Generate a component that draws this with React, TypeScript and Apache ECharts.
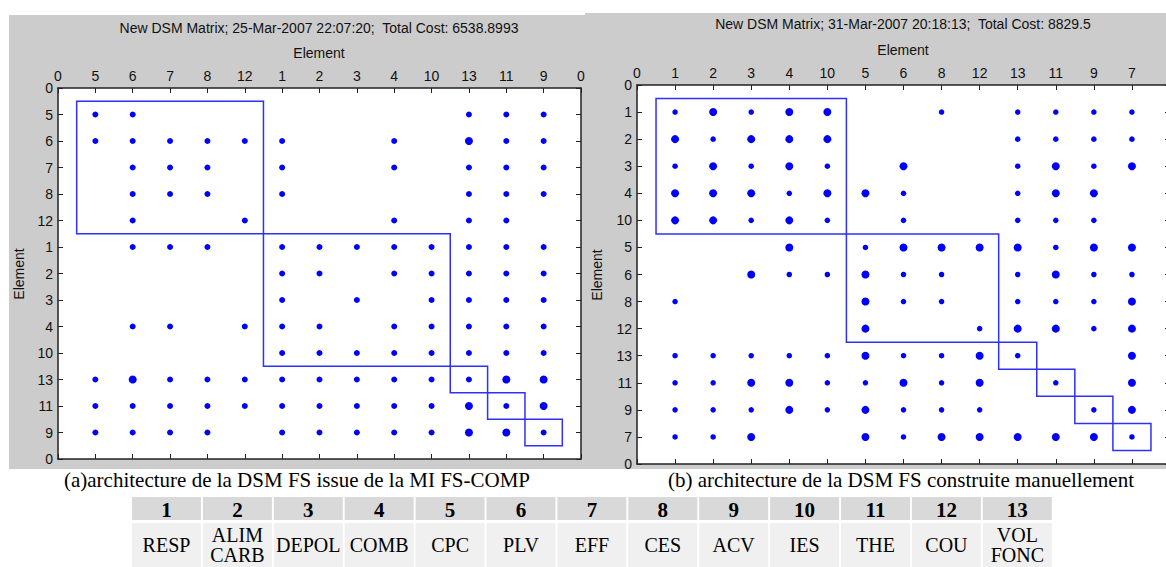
import React, { useEffect, useRef } from "react";
import * as echarts from "echarts";

// ---------- data ----------
const leftOrder = [5, 6, 7, 8, 12, 1, 2, 3, 4, 10, 13, 11, 9];
const rightOrder = [1, 2, 3, 4, 10, 5, 6, 8, 12, 13, 11, 9, 7];

// [row element, columns with a dot, columns with a big dot]
const leftRows: [number, number[], number[]][] = [
  [5, [5, 6, 13, 11, 9], []],
  [6, [5, 6, 7, 8, 12, 1, 4, 13, 11, 9], [13]],
  [7, [6, 7, 8, 1, 4, 13, 11, 9], []],
  [8, [6, 7, 8, 1, 13, 11, 9], []],
  [12, [6, 12, 4, 13, 11], []],
  [1, [6, 7, 8, 1, 2, 3, 4, 10, 13, 11, 9], []],
  [2, [1, 2, 4, 10, 13, 11, 9], []],
  [3, [1, 3, 10, 13, 11, 9], []],
  [4, [6, 7, 12, 1, 2, 4, 10, 13, 11, 9], []],
  [10, [1, 2, 3, 4, 10, 13, 11, 9], []],
  [13, [5, 6, 7, 8, 12, 1, 2, 3, 4, 10, 13, 11, 9], [6, 11, 9]],
  [11, [5, 6, 7, 8, 12, 1, 2, 3, 4, 10, 13, 11, 9], [13, 9]],
  [9, [5, 6, 7, 8, 1, 2, 3, 4, 10, 13, 11, 9], [13, 11]],
];

const rightRows: [number, number[], number[]][] = [
  [1, [1, 2, 3, 4, 10, 8, 13, 11, 9, 7], [2, 4, 10]],
  [2, [1, 2, 3, 4, 10, 13, 11, 9, 7], [1, 3, 4, 10]],
  [3, [1, 2, 3, 4, 10, 6, 13, 11, 9, 7], [2, 4, 6, 11, 7]],
  [4, [1, 2, 3, 4, 10, 5, 6, 13, 11, 9], [1, 2, 3, 10, 5, 11, 9]],
  [10, [1, 2, 3, 4, 10, 6, 13, 11, 9], [1, 2, 4]],
  [5, [4, 5, 6, 8, 12, 13, 11, 9, 7], [4, 6, 8, 12, 13, 9, 7]],
  [6, [3, 4, 10, 5, 6, 8, 13, 11, 9, 7], [3, 5, 11]],
  [8, [1, 5, 6, 8, 13, 11, 9, 7], [5, 7]],
  [12, [5, 12, 13, 11, 9, 7], [5, 13, 11, 7]],
  [13, [1, 2, 3, 4, 10, 5, 6, 8, 12, 13, 7], [5, 12, 7]],
  [11, [1, 2, 3, 4, 10, 5, 6, 8, 12, 11, 7], [3, 4, 6, 12, 7]],
  [9, [1, 2, 3, 4, 10, 5, 6, 8, 12, 9, 7], [4, 5, 7]],
  [7, [1, 2, 3, 5, 6, 8, 12, 13, 11, 9, 7], [3, 5, 8, 12, 13, 11, 9]],
];

// clusters as [first position, last position] along the reordered axis
const leftClusters = [[1, 5], [6, 10], [11, 11], [12, 12], [13, 13]];
const rightClusters = [[1, 5], [6, 9], [10, 10], [11, 11], [12, 12], [13, 13]];

const leftTitle = "New DSM Matrix; 25-Mar-2007 22:07:20;  Total Cost: 6538.8993";
const rightTitle = "New DSM Matrix; 31-Mar-2007 20:18:13;  Total Cost: 8829.5";
const captionA = "(a)architecture de la DSM FS issue de la MI FS-COMP";
const captionB = "(b) architecture de la DSM FS construite manuellement";

const tableCodes = ["1", "2", "3", "4", "5", "6", "7", "8", "9", "10", "11", "12", "13"];
const tableNames = ["RESP", "ALIM\nCARB", "DEPOL", "COMB", "CPC", "PLV", "EFF", "CES", "ACV", "IES", "THE", "COU", "VOL\nFONC"];

// ---------- helpers ----------
const tickLabels = (order: number[]) => ["0", ...order.map(String), "0"];

function toPoints(order: number[], rows: [number, number[], number[]][]) {
  const pts: number[][] = [];
  rows.forEach(([r, cols, big]) => {
    const y = order.indexOf(r) + 1;
    cols.forEach((c) => {
      pts.push([order.indexOf(c) + 1, y, big.includes(c) ? 2 : 1]);
    });
  });
  return pts;
}

const SANS = '"Liberation Sans", Arial, sans-serif';
const SERIF = '"Liberation Serif", "Times New Roman", serif';
const AX = "#222";

function xAxes(order: number[], gridIndex: number, showMax: boolean) {
  const labels = tickLabels(order);
  const base = {
    type: "value",
    gridIndex,
    min: 0,
    max: 14,
    interval: 1,
    splitLine: { show: false },
    axisLine: { show: true, onZero: false, lineStyle: { color: AX, width: 1.5 } },
    axisTick: { show: true, inside: true, length: 5, lineStyle: { color: AX } },
  };
  return [
    {
      ...base,
      position: "top",
      axisLabel: {
        show: true,
        margin: 5,
        fontSize: 14,
        fontFamily: SANS,
        color: "#111",
        showMaxLabel: showMax,
        formatter: (v: number) => labels[Math.round(v)],
      },
    },
    { ...base, position: "bottom", axisLabel: { show: false } },
  ];
}

function yAxes(order: number[], gridIndex: number) {
  const labels = tickLabels(order);
  const base = {
    type: "value",
    gridIndex,
    min: 0,
    max: 14,
    interval: 1,
    inverse: true,
    splitLine: { show: false },
    axisLine: { show: true, onZero: false, lineStyle: { color: AX, width: 1.5 } },
    axisTick: { show: true, inside: true, length: 5, lineStyle: { color: AX } },
  };
  return [
    {
      ...base,
      position: "left",
      axisLabel: {
        show: true,
        margin: 5,
        fontSize: 14,
        fontFamily: SANS,
        color: "#111",
        formatter: (v: number) => labels[Math.round(v)],
      },
    },
    { ...base, position: "right", axisLabel: { show: false } },
  ];
}

function clusterSeries(clusters: number[][], axisIdx: number) {
  return {
    type: "custom",
    xAxisIndex: axisIdx,
    yAxisIndex: axisIdx,
    data: clusters,
    silent: true,
    z: 3,
    renderItem: (params: any, api: any) => {
      const s = api.value(0);
      const e = api.value(1);
      const p0 = api.coord([s - 0.5, s - 0.5]);
      const p1 = api.coord([e + 0.5, e + 0.5]);
      return {
        type: "rect",
        shape: {
          x: Math.min(p0[0], p1[0]),
          y: Math.min(p0[1], p1[1]),
          width: Math.abs(p1[0] - p0[0]),
          height: Math.abs(p1[1] - p0[1]),
        },
        style: { fill: "none", stroke: "#2f2fff", lineWidth: 1.5 },
      };
    },
  };
}

export default function App() {
  const ref = useRef<HTMLDivElement>(null);

  useEffect(() => {
    if (!ref.current) return;
    const chart = echarts.init(ref.current, undefined, { renderer: "svg" });

    const graphics: any[] = [
      { type: "rect", z: -100, shape: { x: 9, y: 15, width: 576, height: 454 }, style: { fill: "#cccccc" } },
      { type: "rect", z: -100, shape: { x: 585, y: 13, width: 590, height: 456 }, style: { fill: "#cccccc" } },
      { type: "text", x: 319, y: 28, style: { text: leftTitle, font: `14px ${SANS}`, fill: "#111", align: "center", verticalAlign: "middle" } },
      { type: "text", x: 903, y: 24, style: { text: rightTitle, font: `14px ${SANS}`, fill: "#111", align: "center", verticalAlign: "middle" } },
      { type: "text", x: 319, y: 53, style: { text: "Element", font: `14px ${SANS}`, fill: "#111", align: "center", verticalAlign: "middle" } },
      { type: "text", x: 903, y: 50, style: { text: "Element", font: `14px ${SANS}`, fill: "#111", align: "center", verticalAlign: "middle" } },
      { type: "text", x: 19, y: 274, rotation: Math.PI / 2, style: { text: "Element", font: `14px ${SANS}`, fill: "#111", align: "center", verticalAlign: "middle" } },
      { type: "text", x: 597, y: 275, rotation: Math.PI / 2, style: { text: "Element", font: `14px ${SANS}`, fill: "#111", align: "center", verticalAlign: "middle" } },
      { type: "text", x: 297, y: 480, style: { text: captionA, font: `21px ${SERIF}`, fill: "#000", align: "center", verticalAlign: "middle" } },
      { type: "text", x: 901, y: 480, style: { text: captionB, font: `21px ${SERIF}`, fill: "#000", align: "center", verticalAlign: "middle" } },
    ];

    tableCodes.forEach((code, i) => {
      const x0 = 132 + i * 70.9;
      graphics.push(
        { type: "rect", shape: { x: x0, y: 497, width: 69, height: 23 }, style: { fill: "#d9d9d9" } },
        { type: "rect", shape: { x: x0, y: 523, width: 69, height: 46 }, style: { fill: "#f0f0f0" } },
        { type: "text", x: x0 + 34.5, y: 510, style: { text: code, font: `bold 21px ${SERIF}`, fill: "#000", align: "center", verticalAlign: "middle" } },
        { type: "text", x: x0 + 34.5, y: 545, style: { text: tableNames[i], font: `20px ${SERIF}`, lineHeight: 20, fill: "#000", align: "center", verticalAlign: "middle" } }
      );
    });

    const option: any = {
      animation: false,
      backgroundColor: "#ffffff",
      grid: [
        { left: 58, top: 88, width: 523, height: 371, show: true, backgroundColor: "#ffffff", borderWidth: 0, containLabel: false, outerBoundsMode: "none" },
        { left: 637, top: 85, width: 533, height: 379, show: true, backgroundColor: "#ffffff", borderWidth: 0, containLabel: false, outerBoundsMode: "none" },
      ],
      xAxis: [...xAxes(leftOrder, 0, true), ...xAxes(rightOrder, 1, false)],
      yAxis: [...yAxes(leftOrder, 0), ...yAxes(rightOrder, 1)],
      series: [
        {
          type: "scatter",
          xAxisIndex: 0,
          yAxisIndex: 0,
          data: toPoints(leftOrder, leftRows),
          symbolSize: (v: number[]) => (v[2] === 2 ? 8 : 6),
          itemStyle: { color: "#0000ff", opacity: 1 },
          z: 4,
        },
        {
          type: "scatter",
          xAxisIndex: 2,
          yAxisIndex: 2,
          data: toPoints(rightOrder, rightRows),
          symbolSize: (v: number[]) => (v[2] === 2 ? 8 : 5.5),
          itemStyle: { color: "#0000ff", opacity: 1 },
          z: 4,
        },
        clusterSeries(leftClusters, 0),
        clusterSeries(rightClusters, 2),
      ],
      graphic: graphics,
    };

    chart.setOption(option);
    return () => chart.dispose();
  }, []);

  return (
    <div
      ref={ref}
      style={{ position: "absolute", left: 0, top: 0, width: 1166, height: 567 }}
    />
  );
}
